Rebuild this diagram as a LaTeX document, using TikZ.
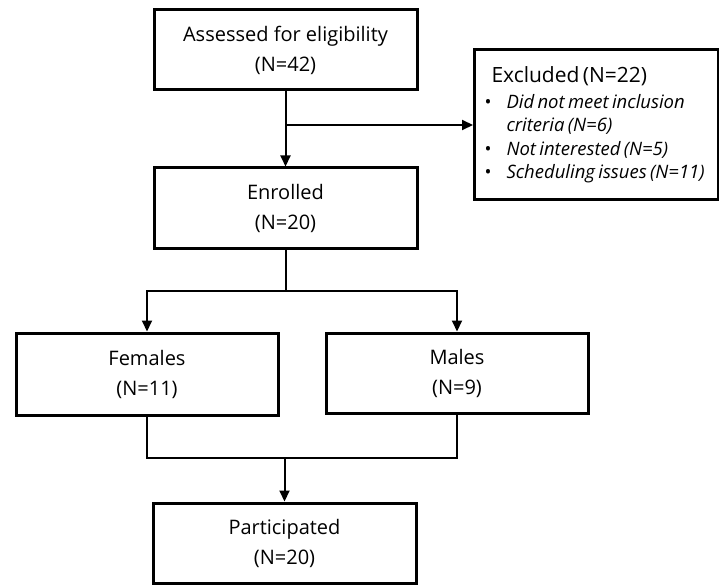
\documentclass[tikz,border=0pt]{standalone}
\usepackage{fontspec}
\setmainfont{Open Sans}
\usepackage{tikz}
\usetikzlibrary{positioning,arrows.meta,calc}
\newcommand{\bitem}{\par\noindent\hangindent=15pt\hangafter=1\makebox[15pt][l]{\hspace{-7pt}\upshape\textbullet}}
\hfuzz=30pt

\begin{document}
\begin{tikzpicture}[x=1pt, y=-1pt,
    flowbox/.style={draw, line width=3pt, minimum width=263pt, minimum height=80pt, align=center, font=\fontsize{20}{30}\selectfont},
    exbox/.style={draw, line width=3pt, minimum width=244pt, minimum height=150pt, text width=210pt, inner xsep=17pt, anchor=north west},
    arr/.style={line width=2pt, -{Triangle[length=11pt,width=10pt]}},
    link/.style={line width=2pt}]
    \useasboundingbox (0,0) rectangle (719,585);

    % Screening
    \node[flowbox] (assess) at (285.5,50) {Assessed for eligibility\\(N=42)};
    \node[flowbox] (enrol) at (285.5,208) {Enrolled\\(N=20)};
    \node[exbox] (excl) at (473,48) {\raggedright
        {\fontsize{21}{27}\selectfont Excluded (N=22)\par}\vspace{3pt}
        \fontsize{18.5}{23.3}\selectfont\itshape
        \bitem Did not meet inclusion\newline criteria (N=6)
        \bitem Not interested (N=5)
        \bitem \mbox{Scheduling issues (N=11)}\par};

    % Groups
    \node[flowbox, minimum width=262pt, minimum height=82pt] (fem) at (147,374) {Females\\(N=11)};
    \node[flowbox, minimum width=262pt] (male) at (457,373) {Males\\(N=9)};
    \node[flowbox] (part) at (284.5,543) {Participated\\(N=20)};

    % Connectors
    \coordinate (j1) at (285.5,125);
    \coordinate (j2) at (285.5,291);
    \coordinate (j3) at (284.5,458);
    \draw[arr] (assess) -- (enrol);
    \draw[arr] (j1) -- (j1 -| excl.west);
    \draw[link] (enrol) -- (j2);
    \draw[arr] (j2) -| (fem);
    \draw[arr] (j2) -| (male);
    \draw[link] (fem) |- (j3) -| (male);
    \draw[arr] (j3) -- (part);
\end{tikzpicture}
\end{document}
